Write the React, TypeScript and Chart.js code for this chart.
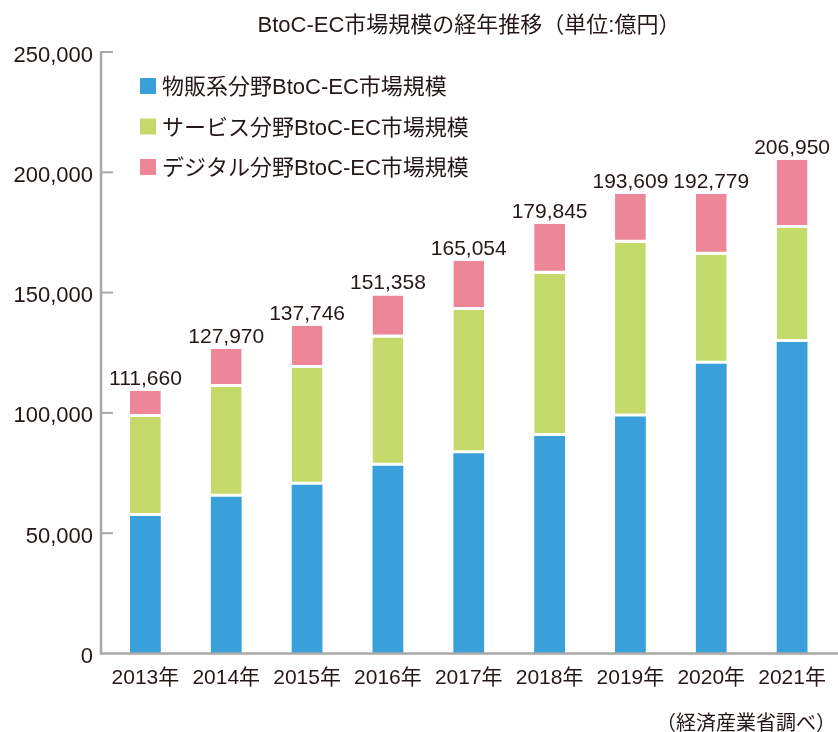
import React, { useEffect, useRef } from "react";
import { Chart, registerables } from "chart.js";

Chart.register(...registerables);

const years = ["2013年", "2014年", "2015年", "2016年", "2017年", "2018年", "2019年", "2020年", "2021年"];
const goods = [57200, 65100, 70100, 78000, 83200, 90400, 98500, 120400, 129500];
const services = [41100, 45700, 48600, 53300, 59600, 67400, 72200, 45300, 47400];
const digital = [10800, 15800, 17500, 17500, 20400, 20800, 20400, 25400, 28300];
const totalLabels = ["111,660", "127,970", "137,746", "151,358", "165,054", "179,845", "193,609", "192,779", "206,950"];
const yTickLabels = ["0", "50,000", "100,000", "150,000", "200,000", "250,000"];
const seriesNames = ["物販系分野BtoC-EC市場規模", "サービス分野BtoC-EC市場規模", "デジタル分野BtoC-EC市場規模"];
const titleText = "BtoC-EC市場規模の経年推移（単位:億円）";
const sourceText = "（経済産業省調べ）";

const COLORS = ["#3aa0da", "#c4db6b", "#ec8698"];
const TEXT = "#231815";
const AXIS = "#a9a9a9";
const FONT = '"Liberation Sans", "Noto Sans CJK JP", sans-serif';

const overlay = {
  id: "overlay",
  afterDatasetsDraw(chart: any) {
    const { ctx, chartArea, scales } = chart;
    const y = scales.y;
    const ax = chartArea.left - 4;
    const y0 = y.getPixelForValue(0);
    const yTop = y.getPixelForValue(250000);
    ctx.save();
    ctx.strokeStyle = AXIS;
    ctx.lineWidth = 2.5;
    ctx.beginPath();
    ctx.moveTo(ax, yTop - 1);
    ctx.lineTo(ax, y0);
    ctx.lineTo(chart.width, y0);
    ctx.stroke();
    ctx.lineWidth = 2;
    y.ticks.forEach((t: any) => {
      if (t.value <= 0) return;
      const py = y.getPixelForValue(t.value);
      ctx.beginPath();
      ctx.moveTo(ax, py);
      ctx.lineTo(ax + 12, py);
      ctx.stroke();
    });

    ctx.fillStyle = TEXT;
    // title
    ctx.font = `22px ${FONT}`;
    ctx.textAlign = "center";
    ctx.textBaseline = "alphabetic";
    ctx.fillText(titleText, 469, 32);

    // legend
    seriesNames.forEach((name, i) => {
      const top = 78 + i * 40.5;
      ctx.fillStyle = COLORS[i];
      ctx.fillRect(140, top, 16, 16);
      ctx.fillStyle = TEXT;
      ctx.textAlign = "left";
      ctx.font = `22px ${FONT}`;
      ctx.fillText(name, 162, top + 16);
    });

    // totals
    const meta = chart.getDatasetMeta(2);
    ctx.font = `21px ${FONT}`;
    ctx.textAlign = "center";
    meta.data.forEach((el: any, i: number) => {
      ctx.fillText(totalLabels[i], el.x, el.y - 6);
    });

    // source
    ctx.font = `20px ${FONT}`;
    ctx.textAlign = "right";
    ctx.fillText(sourceText, 836, 730);
    ctx.restore();
  },
};

export default function App() {
  const ref = useRef<HTMLCanvasElement>(null);
  useEffect(() => {
    document.body.style.margin = "0";
    const data = [goods, services, digital];
    const chart = new Chart(ref.current as HTMLCanvasElement, {
      type: "bar",
      data: {
        labels: years,
        datasets: data.map((d, i) => ({
          label: seriesNames[i],
          data: d,
          backgroundColor: COLORS[i],
          borderColor: "#ffffff",
          borderWidth: i === 0 ? 0 : { top: 0, left: 0, right: 0, bottom: 3 },
          borderSkipped: false,
          barPercentage: 0.381,
          categoryPercentage: 1,
        })),
      },
      options: {
        animation: false,
        responsive: true,
        maintainAspectRatio: false,
        layout: { padding: { top: 52, left: 0, right: 1, bottom: 0 } },
        plugins: {
          legend: { display: false },
          title: { display: false },
          tooltip: { enabled: false },
        },
        scales: {
          x: {
            stacked: true,
            grid: { display: false, drawTicks: false },
            border: { display: false },
            ticks: {
              color: TEXT,
              font: { family: FONT, size: 21 },
              padding: 12,
              maxRotation: 0,
              autoSkip: false,
            },
            afterFit: (s: any) => {
              s.height = 78.5;
            },
          },
          y: {
            stacked: true,
            min: 0,
            max: 250000,
            grid: { display: false, drawTicks: false },
            border: { display: false },
            ticks: {
              stepSize: 50000,
              color: TEXT,
              font: { family: FONT, size: 22 },
              padding: 12,
              labelOffset: 3.5,
              callback: (_v: any, idx: number) => yTickLabels[idx],
            },
            afterFit: (s: any) => {
              s.width = 105;
            },
          },
        },
      },
      plugins: [overlay],
    });
    return () => chart.destroy();
  }, []);
  return (
    <div style={{ width: 838, height: 732, position: "relative" }}>
      <canvas ref={ref} />
    </div>
  );
}
